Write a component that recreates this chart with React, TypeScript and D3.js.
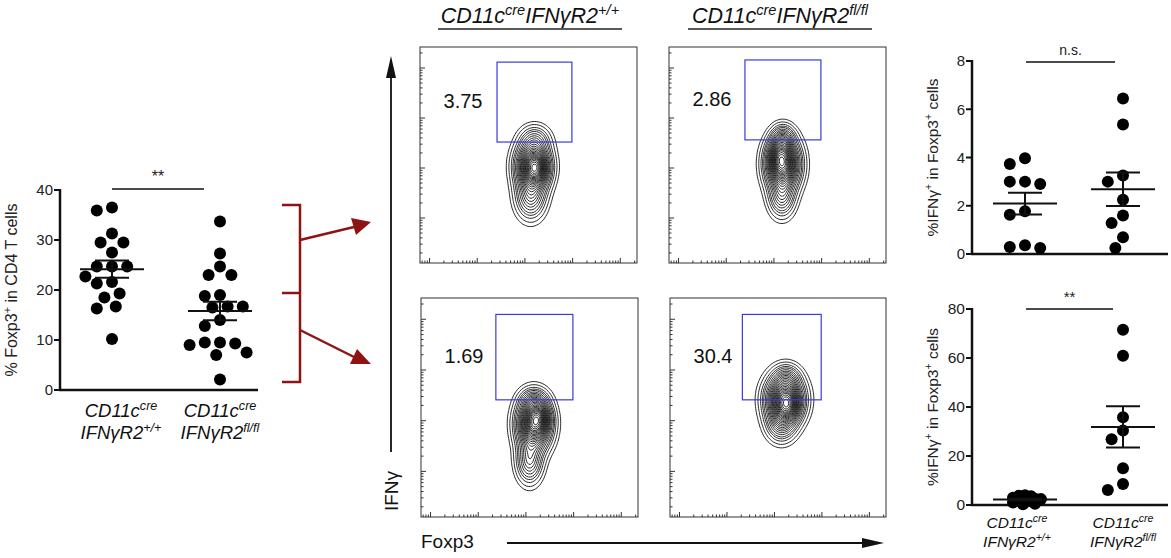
import React from "react";
import * as d3 from "d3";

// ---------- data ----------
const foxp3WT = [36.5, 35.9, 31.3, 29.5, 29.5, 27.5, 24.7, 24.7, 24.7, 22.7, 21.6, 21.3, 19.3, 18.5, 16.7, 16.3, 10.2];
const foxp3KO = [33.7, 27.3, 24.7, 23, 23, 19, 18.8, 16.7, 16.7, 16.5, 14, 12.8, 9.5, 9.3, 9.5, 9, 7.5, 7, 2.1];
const ifngTopWT = [3.97, 3.73, 3.0, 2.9, 3.0, 1.77, 1.63, 0.36, 0.25, 0.29];
const ifngTopKO = [6.45, 5.37, 3.25, 3.0, 2.25, 1.6, 1.28, 0.69, 0.25];
const ifngBotWT = [3.6, 4.0, 3.8, 2.6, 1.5, 1.0, 0.5, 3.0, 2.0, 0.3, 1.8, 2.4];
const ifngBotKO = [71.5, 60.9, 35.8, 30.4, 26.8, 15.0, 8.6, 6.1];

const leftTicks = [0, 10, 20, 30, 40];
const topRTicks = [0, 2, 4, 6, 8];
const botRTicks = [0, 20, 40, 60, 80];
const genotypes = ["+/+", "fl/fl"];

const gatePercents = ["3.75", "2.86", "1.69", "30.4"];
// blobs: [cx, cy, sx, sy, weight] in normalized flow units (0..1)
const blobsTL = [[0.52, 0.45, 0.045, 0.065, 1], [0.51, 0.31, 0.04, 0.06, 0.35], [0.53, 0.57, 0.04, 0.04, 0.2], [0.54, 0.44, 0.03, 0.04, 0.3]];
const blobsTR = [[0.525, 0.46, 0.045, 0.07, 1], [0.52, 0.31, 0.035, 0.055, 0.3], [0.525, 0.58, 0.03, 0.035, 0.25], [0.51, 0.5, 0.03, 0.05, 0.3]];
const blobsBL = [[0.52, 0.42, 0.045, 0.07, 1], [0.5, 0.25, 0.035, 0.06, 0.35], [0.52, 0.53, 0.035, 0.03, 0.2], [0.545, 0.45, 0.03, 0.04, 0.35]];
const blobsBR = [[0.53, 0.53, 0.05, 0.065, 1], [0.515, 0.42, 0.04, 0.05, 0.3], [0.54, 0.63, 0.035, 0.035, 0.2], [0.55, 0.5, 0.03, 0.04, 0.3]];
// gate rectangles in normalized units [x0, x1, y0, y1]
const gatesN = [[0.355, 0.70, 0.56, 0.93], [0.35, 0.70, 0.57, 0.94], [0.345, 0.70, 0.535, 0.925], [0.335, 0.70, 0.535, 0.925]];
const contourLevels = [0.02, 0.04, 0.07, 0.1, 0.13, 0.17, 0.21, 0.25, 0.29, 0.33, 0.37, 0.41, 0.45, 0.49, 0.53, 0.57, 0.61, 0.65, 0.69, 0.73, 0.77, 0.81, 0.86, 0.91, 0.96];

const FONT = "'Liberation Sans', Arial, Helvetica, sans-serif";

// ---------- helpers ----------
function swarm(values: number[], y: (v: number) => number, cx: number, minDist: number, step: number) {
  const order = values.map((v, i) => ({ v, i })).sort((a, b) => b.v - a.v);
  const placed: { x: number; y: number }[] = [];
  const out: { x: number; y: number }[] = new Array(values.length);
  for (const { v, i } of order) {
    const py = y(v);
    for (let k = 0; k < 80; k++) {
      const off = (k % 2 === 0 ? 1 : -1) * Math.ceil(k / 2) * step;
      const px = cx + off;
      if (placed.every((p) => Math.hypot(p.x - px, p.y - py) >= minDist)) {
        placed.push({ x: px, y: py });
        out[i] = { x: px, y: py };
        break;
      }
    }
  }
  return out;
}

// parts: [text, isSuperscript][]
function SupText({ x, y, parts, size, italic = true, anchor = "middle", fill = "#111", transform }: any) {
  let cur = false;
  const spans = parts.map(([t, sup]: [string, boolean], i: number) => {
    let dy = 0;
    if (sup && !cur) dy = -size * 0.38;
    if (!sup && cur) dy = size * 0.38;
    cur = sup;
    return <tspan key={i} dy={dy} fontSize={sup ? size * 0.68 : size}>{t}</tspan>;
  });
  return (
    <text x={x} y={y} transform={transform} fontFamily={FONT} fontStyle={italic ? "italic" : "normal"} fontSize={size} textAnchor={anchor} fill={fill}>
      {spans}
    </text>
  );
}

function CatLabels({ x, y, size, geno }: any) {
  return (
    <g>
      <SupText x={x} y={y} parts={[["CD11c", false], ["cre", true]]} size={size} />
      <SupText x={x} y={y + size * 1.2} parts={[["IFNγR2", false], [geno, true]]} size={size} />
    </g>
  );
}

function Scatter({ ax, ay0, ay1, axEnd, domainMax, ticks, groups, centers, sig, sigSize, yLabelParts, labelX, tickSize, labelSize, minDists, steps, cats, catShift, catY, catSize }: any) {
  const y = d3.scaleLinear().domain([0, domainMax]).range([ay0, ay1]);
  return (
    <g fontFamily={FONT}>
      {ticks.map((t: number) => (
        <g key={t}>
          <line x1={ax - 6} x2={ax} y1={y(t)} y2={y(t)} stroke="#111" strokeWidth={2} />
          <text x={ax - 7} y={y(t)} dy="0.35em" textAnchor="end" fontSize={tickSize} fill="#222">{t}</text>
        </g>
      ))}
      <line x1={ax} x2={ax} y1={y(domainMax) - 1} y2={ay0 + 1} stroke="#111" strokeWidth={2.5} />
      <line x1={ax - 1} x2={axEnd} y1={ay0} y2={ay0} stroke="#111" strokeWidth={2.5} />
      {groups.map((vals: number[], gi: number) => {
        const cx = centers[gi];
        const pts = swarm(vals, y, cx, minDists[gi], steps[gi]);
        const m = d3.mean(vals)!;
        const sem = d3.deviation(vals)! / Math.sqrt(vals.length);
        return (
          <g key={gi}>
            {pts.map((p, i) => <circle key={i} cx={p.x} cy={p.y} r={6} fill="#000" />)}
            <line x1={cx - 32} x2={cx + 32} y1={y(m)} y2={y(m)} stroke="#111" strokeWidth={2} />
            <line x1={cx} x2={cx} y1={y(m - sem)} y2={y(m + sem)} stroke="#111" strokeWidth={2} />
            <line x1={cx - 17} x2={cx + 17} y1={y(m - sem)} y2={y(m - sem)} stroke="#111" strokeWidth={2} />
            <line x1={cx - 17} x2={cx + 17} y1={y(m + sem)} y2={y(m + sem)} stroke="#111" strokeWidth={2} />
          </g>
        );
      })}
      <line x1={sig.x0} x2={sig.x1} y1={sig.y} y2={sig.y} stroke="#111" strokeWidth={1.6} />
      <text x={(sig.x0 + sig.x1) / 2} y={sig.y - 7} textAnchor="middle" fontSize={sigSize} fill="#222">{sig.text}</text>
      <SupText x={0} y={0} transform={`translate(${labelX},${(ay0 + y(domainMax)) / 2}) rotate(-90)`} parts={yLabelParts} size={labelSize} italic={false} fill="#222" />
      {cats ? cats.map((g: string, i: number) => <CatLabels key={i} x={centers[i] + (catShift ? catShift[i] : 0)} y={catY} size={catSize} geno={g} />) : null}
    </g>
  );
}

function FlowPlot({ x0, y0, w, h, blobs, gate, pct }: any) {
  const n = 120;
  const grid = new Float64Array(n * n);
  for (let j = 0; j < n; j++) {
    const yy = 1 - (j + 0.5) / n;
    for (let i = 0; i < n; i++) {
      const xx = (i + 0.5) / n;
      let s = 0;
      for (const [cx, cy, sx, sy, wt] of blobs) {
        s += wt * Math.exp(-0.5 * (((xx - cx) / sx) ** 2 + ((yy - cy) / sy) ** 2));
      }
      grid[j * n + i] = s;
    }
  }
  const mx = d3.max(grid)!;
  const contours = d3.contours().size([n, n]).thresholds(contourLevels.map((l) => l * mx))(Array.from(grid));
  const path = d3.geoPath(d3.geoIdentity().scale(w / n).translate([x0, y0]) as any);
  const xs = d3.scaleLinear().domain([0, 1]).range([x0, x0 + w]);
  const ys = d3.scaleLinear().domain([0, 1]).range([y0 + h, y0]);
  const lx = d3.scaleLog().domain([Math.pow(10, 0.8), Math.pow(10, 5.35)]).range([x0, x0 + w]);
  const ly = d3.scaleLog().domain([Math.pow(10, 1.1), Math.pow(10, 5.42)]).range([y0 + h, y0]);
  const logTicks = (sc: any) => {
    const [a, b] = sc.domain();
    const t: { v: number; major: boolean }[] = [];
    for (let d = 0; d <= 6; d++) for (let m = 1; m <= 9; m++) {
      const v = m * Math.pow(10, d);
      if (v >= a && v <= b) t.push({ v, major: m === 1 });
    }
    return t;
  };
  const [gx0, gx1, gy0, gy1] = gate;
  return (
    <g>
      {contours.map((c, i) => <path key={i} d={path(c as any) || ""} fill="none" stroke="#111" strokeWidth={1} strokeOpacity={0.9} />)}
      <rect x={x0} y={y0} width={w} height={h} fill="none" stroke="#333" strokeWidth={1} />
      {logTicks(ly).map((t, i) => <line key={"y" + i} x1={x0} x2={x0 + (t.major ? 5 : 2.5)} y1={ly(t.v)} y2={ly(t.v)} stroke="#333" strokeWidth={1} />)}
      {logTicks(lx).map((t, i) => <line key={"x" + i} x1={lx(t.v)} x2={lx(t.v)} y1={y0 + h} y2={y0 + h - (t.major ? 5 : 2.5)} stroke="#333" strokeWidth={1} />)}
      <rect x={xs(gx0)} y={ys(gy1)} width={xs(gx1) - xs(gx0)} height={ys(gy0) - ys(gy1)} fill="none" stroke="#3a3ae0" strokeWidth={1.2} />
      <text x={x0 + 43} y={ys((gy0 + gy1) / 2)} dy="0.3em" textAnchor="middle" fontFamily={FONT} fontSize={20} fill="#111">{pct}</text>
    </g>
  );
}

export default function App() {
  const red = "#8e1414";
  const ifnLabel = [["%IFNγ", false], ["+", true], [" in Foxp3", false], ["+", true], [" cells", false]];
  return (
    <svg width={1171} height={558} style={{ position: "absolute", left: 0, top: 0, background: "#fff" }}>
      <rect width={1171} height={558} fill="#fff" />
      {/* left scatter */}
      <Scatter ax={60} ay0={390} ay1={190} axEnd={258} domainMax={40} ticks={leftTicks}
        groups={[foxp3WT, foxp3KO]} centers={[112, 220]} minDists={[13, 13]} steps={[3.8, 3.8]}
        sig={{ x0: 112, x1: 204, y: 189, text: "**" }} sigSize={16}
        yLabelParts={[["% Foxp3", false], ["+", true], [" in CD4 T cells", false]]} labelX={17}
        tickSize={15} labelSize={16} cats={genotypes} catShift={[9, 0]} catY={417} catSize={18.5} />
      {/* top right */}
      <Scatter ax={972} ay0={254} ay1={61} axEnd={1168} domainMax={8} ticks={topRTicks}
        groups={[ifngTopWT, ifngTopKO]} centers={[1025, 1123]} minDists={[13, 13]} steps={[3.8, 3.8]}
        sig={{ x0: 1026, x1: 1115, y: 62, text: "n.s." }} sigSize={14}
        yLabelParts={ifnLabel} labelX={938}
        tickSize={15} labelSize={15.5} />
      {/* bottom right */}
      <Scatter ax={972} ay0={505} ay1={309} axEnd={1168} domainMax={80} ticks={botRTicks}
        groups={[ifngBotWT, ifngBotKO]} centers={[1025, 1123]} minDists={[4.6, 13]} steps={[2, 3.8]}
        sig={{ x0: 1026, x1: 1113, y: 309, text: "**" }} sigSize={15}
        yLabelParts={ifnLabel} labelX={938}
        tickSize={15.5} labelSize={15.5} cats={genotypes} catShift={[-8, 0]} catY={528} catSize={15.5} />

      {/* red bracket and arrows */}
      <g stroke={red} strokeWidth={2.5} fill="none">
        <path d="M282,205 H300 V382 H282" />
        <path d="M282,293 H300" />
        <line x1={300} y1={240} x2={354} y2={227} />
        <line x1={300} y1={330} x2={354} y2={357} />
      </g>
      <path d="M371,222 L351,218 L356,235 Z" fill={red} />
      <path d="M371,364 L357,349 L350,364 Z" fill={red} />

      {/* flow titles */}
      <SupText x={530} y={23} parts={[["CD11c", false], ["cre", true], ["IFNγR2", false], [genotypes[0], true]]} size={21.5} />
      <SupText x={780} y={23} parts={[["CD11c", false], ["cre", true], ["IFNγR2", false], [genotypes[1], true]]} size={21.5} />
      <line x1={438} x2={622} y1={29} y2={29} stroke="#222" strokeWidth={1.5} />
      <line x1={688} x2={872} y1={29} y2={29} stroke="#222" strokeWidth={1.5} />

      <FlowPlot x0={420} y0={47} w={217} h={216} blobs={blobsTL} gate={gatesN[0]} pct={gatePercents[0]} />
      <FlowPlot x0={669} y0={47} w={217} h={216} blobs={blobsTR} gate={gatesN[1]} pct={gatePercents[1]} />
      <FlowPlot x0={421} y0={298} w={217} h={219} blobs={blobsBL} gate={gatesN[2]} pct={gatePercents[2]} />
      <FlowPlot x0={670} y0={298} w={216} h={219} blobs={blobsBR} gate={gatesN[3]} pct={gatePercents[3]} />

      {/* axis arrows */}
      <line x1={391} x2={391} y1={452} y2={62} stroke="#111" strokeWidth={1.8} />
      <path d="M391,56 L386,78 L396,78 Z" fill="#111" />
      <text transform="translate(398,491) rotate(-90)" textAnchor="middle" fontFamily={FONT} fontSize={19} fill="#111">IFNγ</text>
      <text x={421} y={548} fontFamily={FONT} fontSize={19} fill="#111">Foxp3</text>
      <line x1={507} x2={868} y1={543} y2={543} stroke="#111" strokeWidth={1.8} />
      <path d="M884,543 L862,538 L862,548 Z" fill="#111" />
    </svg>
  );
}
